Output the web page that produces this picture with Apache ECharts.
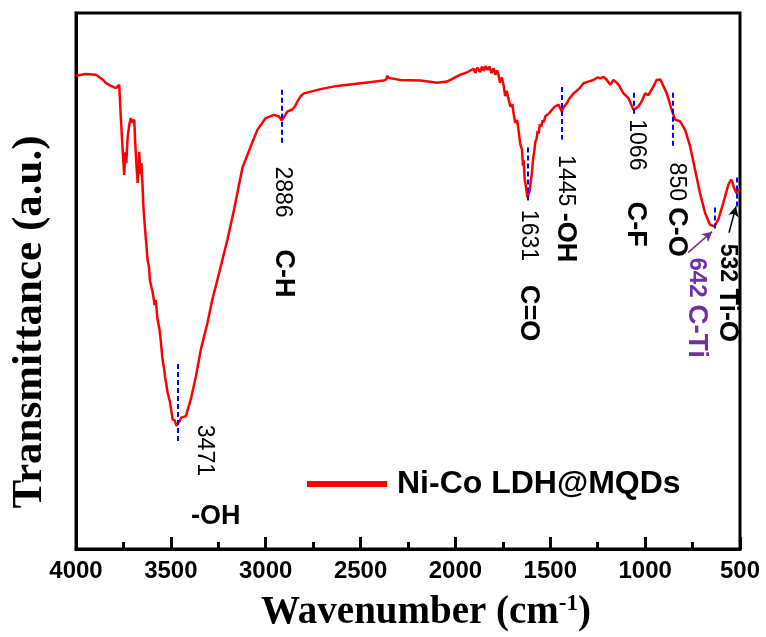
<!DOCTYPE html>
<html><head><meta charset="utf-8">
<script src="https://cdn.jsdelivr.net/npm/echarts@6/dist/echarts.min.js"></script>
<style>html,body{margin:0;padding:0;background:#fff}#c{width:766px;height:637px}</style>
</head><body><div id="c"></div><script>
// FTIR spectrum of Ni-Co LDH@MQDs (wavenumber, transmittance a.u.)
const waves = [4000,3950,3895,3860,3842,3810,3789,3772,3768,3763,3755,3746,3740,3735,3728,3720,3711,3702,3693,3688,3682,3675,3670,3667,3660,3655,3649,3645,3640,3632,3623,3615,3610,3596,3585,3580,3570,3560,3555,3544,3535,3530,3517,3505,3491,3480,3471,3465,3455,3445,3421,3395,3368,3342,3307,3281,3254,3202,3167,3123,3079,3044,3000,2956,2930,2916,2900,2886,2860,2845,2833,2815,2798,2711,2623,2500,2377,2365,2360,2352,2342,2289,2184,2096,2044,1974,1940,1904,1895,1885,1870,1860,1850,1840,1830,1820,1810,1798,1790,1780,1772,1765,1755,1746,1738,1730,1719,1710,1700,1693,1685,1675,1667,1658,1649,1644,1640,1635,1626,1620,1614,1608,1603,1596,1590,1585,1579,1572,1567,1561,1555,1548,1540,1535,1525,1515,1509,1500,1490,1474,1456,1447,1439,1430,1412,1400,1377,1360,1345,1325,1300,1272,1250,1237,1219,1202,1184,1167,1149,1140,1114,1088,1061,1050,1035,1018,1000,983,956,940,930,920,912,886,860,842,816,789,763,737,711,684,658,635,614,588,561,547,540,532,518,510,500];
const trans = [88.3,88.6,88.5,87.6,86.9,86.3,86.0,86.6,83.5,80.1,75.0,69.8,74.0,72.0,76.7,79.0,80.4,79.5,80.1,76.0,72.0,68.3,71.0,74.1,70.0,72.0,67.6,64.0,61.5,58.0,54.0,52.5,50.0,47.9,45.5,46.5,42.8,41.0,39.5,35.4,33.5,32.0,29.2,27.5,24.2,24.0,23.0,23.3,23.8,24.5,24.8,27.9,32.2,37.2,42.2,46.6,50.3,57.7,63.3,71.1,75.1,78.2,80.4,81.0,80.7,80.0,80.8,81.6,82.0,82.6,83.5,84.5,85.0,85.8,86.4,86.9,87.4,87.6,88.3,87.9,87.7,87.5,87.4,87.0,87.2,88.5,88.9,89.6,88.8,89.8,89.0,90.0,89.2,90.1,89.4,90.0,88.8,89.7,88.5,89.3,88.3,87.0,88.0,86.5,84.5,85.5,83.8,82.5,83.0,81.2,79.5,80.0,78.0,75.5,74.5,71.5,72.5,69.0,67.0,65.5,65.2,67.0,68.5,70.5,73.0,74.0,76.0,76.5,78.0,77.5,79.2,78.8,80.0,79.6,80.8,80.5,81.2,81.0,82.0,82.6,82.9,82.2,81.6,82.4,83.2,84.0,85.0,85.5,86.0,86.9,87.2,87.5,88.0,87.8,88.1,87.5,86.6,87.5,87.0,86.6,85.0,84.1,81.9,82.2,82.6,83.5,85.0,84.7,86.3,87.5,87.8,87.6,87.5,85.0,81.9,80.1,79.8,78.2,75.1,70.8,66.4,62.7,60.5,60.2,61.5,64.6,68.0,68.9,68.5,67.4,66.4,66.8,67.2];

const seriesName = 'Ni-Co LDH@MQDs';
const xTicks = [4000, 3500, 3000, 2500, 2000, 1500, 1000, 500];

// peak marker dashed lines: wavenumber, top, bottom (data units)
const peakWave = [3462, 2916, 1620, 1438, 1062, 855, 634, 518];
const peakTop = [34.5, 85.7, 74.9, 86.2, 85.1, 85.1, 63.7, 69.3];
const peakBottom = [19.6, 75.8, 64.8, 76.4, 81.2, 75.0, 59.8, 63.9];

// annotation texts and their anchor (center) in data units
const annoText = ['{n|3471}', '{b|-OH}', '{n|2886}', '{b|C-H}', '{n|1631}', '{b|C=O}', '{n|1445 }{b|-OH}', '{n|1066}', '{b|C-F}', '{n|850 }{b|C-O}', '{pn|642 }{pb|C-Ti}', '{nb|532 }{b|Ti-O}'];
const annoWave = [3321, 3263, 2910, 2905, 1616, 1616, 1418, 1047, 1053, 837, 726, 568];
const annoY = [18.4, 6.1, 66.6, 51.4, 58.5, 44.0, 63.5, 75.4, 60.6, 63.3, 45.0, 47.8];
const annoRotated = [true, false, true, true, true, true, true, true, true, true, true, true];

// arrows: from [w, y] to [w, y]
const arrowFrom = [[774, 55.3], [558, 59.0]];
const arrowTo = [[647, 59.2], [521, 63.9]];
const arrowColor = ['#7030A0', '#000000'];

const chart = echarts.init(document.getElementById('c'), null, {renderer: 'canvas'});

const rich = {
  n: {fontFamily: 'Liberation Sans', fontSize: 23, fontWeight: 'normal', color: '#000', textBorderWidth: 0},
  nb: {fontFamily: 'Liberation Sans', fontSize: 23, fontWeight: 'bold', color: '#000', textBorderWidth: 0},
  b: {fontFamily: 'Liberation Sans', fontSize: 27, fontWeight: 'bold', color: '#000', textBorderWidth: 0},
  pn: {fontFamily: 'Liberation Sans', fontSize: 24, fontWeight: 'bold', color: '#7030A0', textBorderWidth: 0},
  pb: {fontFamily: 'Liberation Sans', fontSize: 28, fontWeight: 'bold', color: '#7030A0', textBorderWidth: 0}
};

const option = {
  animation: false,
  backgroundColor: '#fff',
  grid: {left: 75, right: 26, top: 13, bottom: 87, show: true, borderColor: '#000', borderWidth: 3, containLabel: false},
  legend: {
    data: [seriesName], left: 302, top: 463, icon: 'rect', itemWidth: 80, itemHeight: 6,
    textStyle: {fontFamily: 'Liberation Sans', fontSize: 32, fontWeight: 'bold', color: '#000', padding: [0, 0, 0, 5]}
  },
  xAxis: {
    type: 'value', inverse: true, min: 500, max: 4000, interval: 500,
    name: '{a|Wavenumber (cm}{s|-1}{a|)}', nameLocation: 'middle', nameGap: 44,
    nameTextStyle: {padding: [0, 0, 0, 36], rich: {
      a: {fontFamily: 'Liberation Serif', fontSize: 39, fontWeight: 'bold', color: '#000'},
      s: {fontFamily: 'Liberation Serif', fontSize: 23, fontWeight: 'bold', color: '#000', verticalAlign: 'top', lineHeight: 30}
    }},
    axisLine: {show: true, onZero: false, lineStyle: {color: '#000', width: 3}},
    axisTick: {show: true, inside: true, length: 12, lineStyle: {color: '#000', width: 3}},
    minorTick: {show: true, splitNumber: 2, length: 7, lineStyle: {color: '#000', width: 3}},
    axisLabel: {fontFamily: 'Liberation Sans', fontSize: 24, fontWeight: 'bold', color: '#000', margin: 10,
      formatter: v => xTicks.includes(v) ? String(v) : ''},
    splitLine: {show: false}, minorSplitLine: {show: false}
  },
  yAxis: {
    type: 'value', min: 0, max: 100,
    name: 'Transmittance (a.u.)', nameLocation: 'middle', nameGap: 25,
    nameTextStyle: {fontFamily: 'Liberation Serif', fontSize: 43, fontWeight: 'bold', color: '#000', padding: [0, 82, 0, 0]},
    axisLine: {show: true, onZero: false, lineStyle: {color: '#000', width: 3}},
    axisTick: {show: false}, axisLabel: {show: false}, splitLine: {show: false}
  },
  series: [
    {
      name: seriesName, type: 'line', symbol: 'none', smooth: false,
      data: waves.map((w, i) => [w, trans[i]]),
      lineStyle: {color: '#ff0000', width: 2.5}, itemStyle: {color: '#ff0000'},
      markLine: {
        silent: true, symbol: ['none', 'arrow'], symbolSize: [8, 10], label: {show: false},
        data: arrowFrom.map((f, i) => [
          {coord: f, lineStyle: {color: arrowColor[i], width: 1.5, type: 'solid'}},
          {coord: arrowTo[i]}
        ])
      }
    },
    {
      name: 'annotations', type: 'scatter', symbol: 'circle', symbolSize: 1, silent: true,
      itemStyle: {color: 'rgba(0,0,0,0)'},
      data: annoWave.map((w, i) => ({
        value: [w, annoY[i]],
        label: {show: true, position: 'inside', formatter: annoText[i], rotate: annoRotated[i] ? -90 : 0,
          align: 'center', verticalAlign: 'middle', color: '#000', opacity: 1, textBorderWidth: 0, rich: rich}
      })),
      markLine: {
        silent: true, symbol: ['none', 'none'], label: {show: false},
        lineStyle: {color: '#0000ff', width: 2, type: [5, 3]},
        data: peakWave.map((w, i) => [{coord: [w, peakTop[i]]}, {coord: [w, peakBottom[i]]}])
      }
    }
  ]
};
chart.setOption(option);
</script></body></html>
